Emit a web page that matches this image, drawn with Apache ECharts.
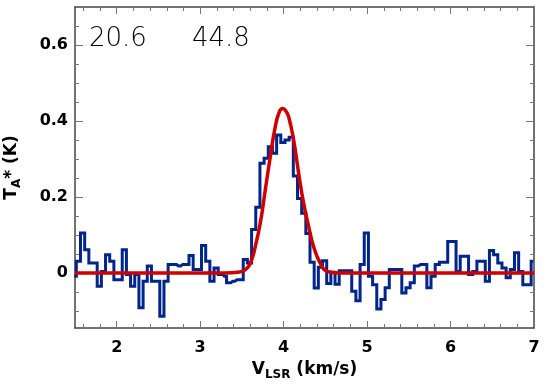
<!DOCTYPE html>
<html>
<head>
<meta charset="utf-8">
<title>spectrum</title>
<script src="https://cdn.jsdelivr.net/npm/echarts@6/dist/echarts.min.js"></script>
<style>
  html, body { margin: 0; padding: 0; background: #fff; }
  #chart { width: 545px; height: 389px; }
</style>
</head>
<body>
<div id="chart"></div>
<script>
// channel grid of the spectrum (km/s)
const chanStart = 1.491
const chanWidth = 0.05

// T_A* per channel (K)
const tant = [
  -0.009, 0.031, 0.105, 0.061, 0.026, 0.026, -0.035, 0.004, 0.048, 0.031,
  -0.018, -0.018, 0.061, -0.004, -0.035, -0.004, -0.092, -0.022, 0.018, -0.022,
  -0.022, -0.114, -0.022, 0.022, 0.022, 0.018, 0.022, 0.022, 0.046, 0.009,
  0.009, 0.072, 0.031, -0.022, 0.013, -0.004, -0.009, -0.026, -0.022, -0.018,
  -0.018, 0.035, 0.026, 0.114, 0.173, 0.289, 0.302, 0.332, 0.315, 0.363,
  0.343, 0.350, 0.357, 0.255, 0.196, 0.157, 0.104, 0.028, -0.040, 0.015,
  0.032, -0.028, 0.002, -0.030, 0.006, 0.006, 0.006, -0.048, -0.073, 0.022,
  0.105, -0.009, -0.031, -0.095, -0.070, -0.039, 0.009, 0.009, 0.009, -0.053,
  -0.039, -0.026, 0.018, 0.022, 0.022, -0.039, -0.009, 0.022, 0.028, 0.028,
  0.083, 0.083, 0.004, 0.044, 0.044, -0.004, 0.004, 0.031, 0.031, -0.022,
  0.059, 0.048, 0.026, 0.013, -0.013, 0.009, 0.053, 0.004, -0.031, -0.031,
  0.031
]

// gaussian fit, points
const fitV = [1.5, 3.3, 3.45, 3.54, 3.6, 3.66, 3.72, 3.78, 3.84, 3.9, 3.95, 3.99,
  4.03, 4.06, 4.12, 4.18, 4.24, 4.3, 4.36, 4.44, 4.52, 4.65, 7.0]
const fitT = [0, 0, 0.002, 0.008, 0.025, 0.069, 0.131, 0.218, 0.306, 0.385, 0.425, 0.433,
  0.425, 0.411, 0.35, 0.262, 0.183, 0.122, 0.069, 0.025, 0.004, 0, 0]

const xMajor = [2, 3, 4, 5, 6, 7]
const xMinor = [1.6, 1.8, 2.2, 2.4, 2.6, 2.8, 3.2, 3.4, 3.6, 3.8, 4.2, 4.4, 4.6, 4.8,
  5.2, 5.4, 5.6, 5.8, 6.2, 6.4, 6.6, 6.8]
const yMajor = [0, 0.2, 0.4, 0.6]
const yMinor = [-0.1, -0.05, 0.05, 0.1, 0.15, 0.25, 0.3, 0.35, 0.45, 0.5, 0.55, 0.65]
const notes = ['20.6', '44.8']

const font = 'DejaVu Sans'
const frame = '#444'
const tickColor = '#777'

function xAxis(position, ticks, len, labels, line) {
  return {
    type: 'value', position, min: 1.5, max: 7,
    axisLine: { show: line, onZero: false, lineStyle: { color: frame, width: 1.5 } },
    axisTick: { show: true, inside: true, length: len, customValues: ticks, lineStyle: { color: tickColor, width: 1 } },
    axisLabel: labels ? {
      show: true, customValues: ticks, margin: 12,
      color: '#000', fontFamily: font, fontWeight: 'bold', fontSize: 16
    } : { show: false },
    splitLine: { show: false }
  }
}

function yAxis(position, ticks, len, labels, line) {
  return {
    type: 'value', position, min: -0.145, max: 0.7,
    axisLine: { show: line, onZero: false, lineStyle: { color: frame, width: 1.5 } },
    axisTick: { show: true, inside: true, length: len, customValues: ticks, lineStyle: { color: tickColor, width: 1 } },
    axisLabel: labels ? {
      show: true, customValues: ticks, margin: 7,
      color: '#000', fontFamily: font, fontWeight: 'bold', fontSize: 16
    } : { show: false },
    splitLine: { show: false }
  }
}

const rich = {
  v: { fontFamily: font, fontWeight: 'bold', fontSize: 17, color: '#000' },
  s: { fontFamily: font, fontWeight: 'bold', fontSize: 12, color: '#000', verticalAlign: 'bottom', padding: [10, 0, 0, 0] }
}

const xs = [
  xAxis('bottom', xMajor, 7, true, true),
  xAxis('bottom', xMinor, 4, false, false),
  xAxis('top', xMajor, 7, false, true),
  xAxis('top', xMinor, 4, false, false)
]
Object.assign(xs[0], {
  name: '{v|V}{s|LSR}{v| (km/s)}',
  nameLocation: 'middle',
  nameGap: 31,
  nameTextStyle: { rich }
})

const ys = [
  yAxis('left', yMajor, 8, true, true),
  yAxis('left', yMinor, 4, false, false),
  yAxis('right', yMajor, 8, false, true),
  yAxis('right', yMinor, 4, false, false)
]
Object.assign(ys[0], {
  name: '{v|T}{s|A}{v|* (K)}',
  nameLocation: 'middle',
  nameGap: 52,
  nameTextStyle: { rich }
})

const chart = echarts.init(document.getElementById('chart'))
chart.setOption({
  animation: false,
  backgroundColor: '#fff',
  grid: { left: 75, right: 11, top: 7, bottom: 61, containLabel: false, outerBoundsMode: 'none' },
  xAxis: xs,
  yAxis: ys,
  graphic: [
    { type: 'text', left: 89, top: 26, style: { text: notes[0], fontFamily: font, fontWeight: 200, fontSize: 26, fill: '#000' } },
    { type: 'text', left: 192, top: 26, style: { text: notes[1], fontFamily: font, fontWeight: 200, fontSize: 26, fill: '#000' } }
  ],
  series: [
    {
      type: 'line',
      step: 'middle',
      showSymbol: false,
      data: tant.map((t, i) => [chanStart + chanWidth * i, t]),
      lineStyle: { color: '#00268c', width: 3, join: 'miter' },
      z: 2
    },
    {
      type: 'line',
      smooth: 0.5,
      showSymbol: false,
      data: fitV.map((v, i) => [v, fitT[i]]),
      lineStyle: { color: '#d20000', width: 3.5 },
      z: 3
    }
  ]
})
</script>
</body>
</html>
